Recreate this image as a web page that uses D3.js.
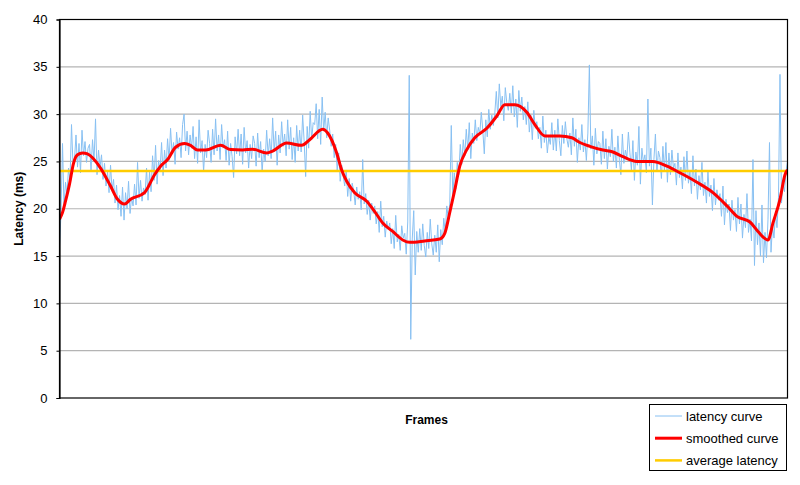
<!DOCTYPE html>
<html>
<head>
<meta charset="utf-8">
<script src="https://cdn.jsdelivr.net/npm/d3@7"></script>
<style>
  html, body { margin: 0; padding: 0; background: #fff; }
  svg { display: block; font-family: "Liberation Sans", Arial, sans-serif; }
</style>
</head>
<body>
<svg id="chart" width="800" height="485"></svg>
<script>
// ---- data ----
// raw latency per sampled frame (every 3rd frame)
const latency = [
  16.0, 19.5, 26.9, 20.2, 22.8, 21.5, 24.3, 23.0, 28.9, 24.6,
  25.2, 27.8, 24.4, 26.9, 23.8, 28.3, 25.6, 27.1, 24.9, 26.4,
  26.8, 24.1, 27.3, 25.0, 29.5, 23.6, 26.2, 24.4, 25.7, 23.1,
  24.8, 22.4, 23.9, 21.7, 24.6, 22.0, 23.1, 20.6, 22.5, 19.9,
  21.4, 19.2, 22.3, 18.8, 21.7, 20.0, 22.9, 19.5, 21.2, 20.3,
  22.6, 20.4, 24.9, 21.1, 23.0, 20.8, 22.2, 21.5, 24.3, 20.9,
  23.9, 21.8, 25.6, 23.0, 26.7, 22.6, 25.1, 24.0, 27.0, 23.5,
  26.2, 24.3, 27.4, 25.1, 28.5, 25.8, 27.0, 24.7, 28.1, 26.3,
  27.5, 25.4, 28.9, 30.0, 26.1, 28.2, 25.7, 27.8, 26.4, 28.7,
  25.3, 27.6, 24.8, 29.4, 25.9, 27.2, 23.9, 26.8, 25.4, 28.3,
  26.9, 24.9, 28.4, 25.7, 29.5, 26.1, 27.8, 25.2, 28.9, 26.4,
  27.3, 25.1, 28.2, 24.6, 26.9, 25.5, 23.3, 27.6, 25.8, 28.4,
  25.6, 27.9, 24.7, 28.6, 25.9, 27.2, 24.3, 26.8, 25.3, 27.7,
  26.9, 24.5, 28.0, 25.4, 27.1, 23.9, 26.3, 25.0, 28.3, 25.6,
  27.4, 25.3, 29.6, 26.0, 28.2, 24.6, 27.8, 25.9, 29.2, 26.6,
  27.9, 25.6, 29.4, 26.3, 28.6, 25.2, 27.5, 24.9, 28.8, 26.1,
  28.3, 26.0, 29.9, 27.1, 23.4, 28.7, 26.4, 30.3, 27.3, 29.1,
  28.9, 31.1, 27.4, 30.5, 26.8, 31.8, 28.2, 30.2, 27.5, 29.6,
  28.3, 26.6, 27.9, 25.4, 26.8, 24.0, 25.9, 22.9, 24.6, 23.5,
  22.4, 24.1, 21.3, 23.2, 20.8, 22.7, 21.9, 20.4, 22.3, 21.0,
  21.8, 19.9, 25.2, 20.5, 21.6, 19.4, 20.9, 18.8, 20.6, 19.5,
  20.3, 18.4, 19.7, 17.5, 20.8, 18.1, 19.2, 17.0, 18.7, 17.8,
  18.5, 16.3, 17.9, 15.8, 19.3, 16.5, 17.3, 15.6, 18.2, 16.9,
  17.4, 15.2, 18.6, 34.1, 6.2, 16.8, 19.8, 13.0, 17.6, 15.4,
  17.9, 15.6, 18.4, 16.1, 14.9, 17.5, 15.8, 18.9, 16.3, 15.1,
  17.2, 15.4, 18.3, 14.4, 17.8, 16.2, 19.0, 17.5, 20.3, 18.9,
  20.6, 28.8, 21.4, 23.8, 22.1, 24.9, 23.6, 26.8, 24.7, 27.3,
  25.6, 28.4, 26.2, 29.1, 25.3, 28.0, 26.9, 29.4, 27.2, 28.6,
  27.9, 30.2, 28.3, 25.8, 29.4, 27.6, 30.5, 28.4, 29.9, 28.8,
  30.1, 32.4, 29.6, 33.2, 30.8, 31.9, 29.3, 32.8, 31.2, 30.4,
  32.2, 30.1, 33.0, 29.7, 31.6, 28.6, 32.5, 30.3, 31.8, 29.4,
  30.8, 28.9, 31.3, 28.1, 29.9, 27.3, 30.4, 28.5, 29.2, 27.4,
  28.6, 26.4, 29.8, 27.0, 28.3, 25.9, 27.6, 26.8, 29.1, 26.2,
  28.3, 26.1, 29.5, 27.2, 25.6, 28.8, 26.9, 29.2, 27.4, 26.5,
  28.0, 25.7, 29.6, 26.6, 28.4, 24.9, 27.5, 26.2, 28.9, 26.0,
  27.3, 25.1, 28.0, 35.2, 26.3, 27.7, 24.6, 28.5, 25.8, 27.1,
  26.9, 24.7, 28.2, 25.3, 27.4, 24.2, 26.6, 25.5, 28.4, 25.0,
  26.5, 24.3, 27.7, 25.1, 23.6, 27.9, 24.8, 26.2, 25.4, 28.1,
  25.9, 24.1, 27.2, 23.0, 26.0, 24.6, 28.7, 22.6, 26.4, 24.9,
  25.7, 23.8, 31.6, 24.5, 26.4, 20.4, 25.2, 27.9, 23.9, 26.1,
  25.4, 23.2, 26.6, 24.0, 27.0, 22.8, 25.9, 23.6, 26.2, 24.3,
  24.8, 22.5, 25.9, 23.3, 24.4, 22.1, 25.5, 23.0, 26.1, 22.7,
  23.9, 21.6, 25.6, 22.4, 24.2, 21.0, 23.5, 22.0, 24.9, 21.4,
  22.8, 20.6, 24.0, 21.3, 22.5, 19.8, 23.2, 20.4, 22.0, 20.9,
  21.6, 19.2, 22.4, 18.3, 21.0, 19.6, 20.5, 17.7, 20.9, 18.8,
  19.9, 17.6, 21.2, 18.4, 20.5, 16.9, 19.4, 18.0, 21.6, 17.5,
  18.9, 16.6, 25.2, 14.0, 19.8, 16.2, 18.5, 15.0, 20.4, 14.3,
  17.5, 14.8, 18.9, 27.0, 15.4, 18.2, 16.9, 19.6, 18.0, 21.2,
  34.2, 20.6, 22.7, 21.8, 23.9, 25.0
];
const latencyStep = 3; // frames between samples

// smoothed curve: frame numbers and values
const smoothFrames = [0, 6, 12, 20, 28, 36, 46, 56, 82, 102, 116, 130, 142, 170, 190, 202, 216, 232, 250, 262, 276, 292,
  322, 342, 366, 386, 414, 426, 454, 484, 500, 526, 536, 554, 564, 574, 590, 614, 630, 646, 666, 686,
  700, 730, 760, 770, 780, 790, 800, 814, 830, 854, 874, 890, 910, 934, 950, 970, 1000, 1024, 1040, 1060,
  1086, 1106, 1126, 1154, 1186, 1214, 1240, 1274, 1306, 1334, 1354, 1380, 1396, 1416, 1426, 1440, 1450, 1455];
const smoothValues = [18.9, 19.6, 20.8, 22.6, 24.8, 25.7, 25.9, 25.8, 24.3, 22.4, 21.0, 20.5, 21.0, 21.7, 23.6, 24.5, 25.2, 26.5, 26.9, 26.7, 26.2, 26.2,
  26.7, 26.25, 26.2, 26.3, 25.9, 26.1, 26.95, 26.7, 27.3, 28.4, 28.0, 25.9, 24.1, 22.9, 21.7, 20.8, 19.7, 18.5, 17.6, 16.7,
  16.45, 16.6, 16.8, 17.4, 19.6, 22.0, 24.5, 26.25, 27.5, 28.5, 29.8, 31.0, 31.0, 30.2, 28.9, 27.7, 27.7, 27.5, 27.0, 26.6,
  26.2, 26.0, 25.5, 25.0, 25.0, 24.5, 23.8, 22.8, 21.7, 20.3, 19.2, 18.6, 17.6, 16.7, 18.5, 21.0, 23.6, 24.1];

const averageLatency = 24.0;
const yTicks = [0, 5, 10, 15, 20, 25, 30, 35, 40];
const legendLabels = ["latency curve", "smoothed curve", "average latency"];
const xLabel = "Frames";
const yLabel = "Latency (ms)";

// ---- layout ----
const svg = d3.select("#chart");
const L = 59.5, R = 787.5, T = 19.5, B = 398;
const colors = { latency: "#88c0f2", smooth: "#ff0000", avg: "#ffcc00" };

const x = d3.scaleLinear().domain([0, (latency.length - 1) * latencyStep]).range([L, R]);
const y = d3.scaleLinear().domain([0, 40]).range([B, T]);

// gridlines
svg.append("g").selectAll("line")
  .data(yTicks.filter(t => t > 0 && t < 40))
  .join("line")
  .attr("x1", L).attr("x2", R)
  .attr("y1", d => y(d)).attr("y2", d => y(d))
  .attr("stroke", "#b4b4b4").attr("stroke-width", 1.2);

// clip
svg.append("clipPath").attr("id", "clip")
  .append("rect").attr("x", L).attr("y", T).attr("width", R - L).attr("height", B - T);

const plot = svg.append("g").attr("clip-path", "url(#clip)");

// latency curve
plot.append("path")
  .datum(latency)
  .attr("fill", "none")
  .attr("stroke", colors.latency)
  .attr("stroke-width", 1)
  .attr("d", d3.line().x((d, i) => x(i * latencyStep)).y(d => y(d)));

// average line
plot.append("line")
  .attr("x1", L).attr("x2", R)
  .attr("y1", y(averageLatency)).attr("y2", y(averageLatency))
  .attr("stroke", colors.avg).attr("stroke-width", 2.5);

// smoothed curve
plot.append("path")
  .datum(smoothFrames.map((f, i) => [f, smoothValues[i]]))
  .attr("fill", "none")
  .attr("stroke", colors.smooth)
  .attr("stroke-width", 3)
  .attr("stroke-linejoin", "round")
  .attr("d", d3.line().x(d => x(d[0])).y(d => y(d[1])).curve(d3.curveMonotoneX));

// plot border
svg.append("rect")
  .attr("x", L).attr("y", T).attr("width", R - L).attr("height", B - T)
  .attr("fill", "none").attr("stroke", "#000").attr("stroke-width", 1.2);

// y axis
const yAxis = svg.append("g")
  .attr("transform", `translate(${L},0)`)
  .call(d3.axisLeft(y).tickValues(yTicks).tickSize(3).tickPadding(9).tickFormat(d3.format("d")));
yAxis.select(".domain").attr("stroke", "#000").attr("stroke-width", 1.2);
yAxis.selectAll(".tick line").attr("stroke", "#000");
yAxis.selectAll(".tick text")
  .attr("font-size", 13).attr("fill", "#000")
  .attr("font-family", '"Liberation Sans", Arial, sans-serif');

// axis titles
svg.append("text")
  .attr("x", (L + R) / 2 + 3).attr("y", 424)
  .attr("text-anchor", "middle")
  .attr("font-size", 12).attr("font-weight", "bold")
  .text(xLabel);

svg.append("text")
  .attr("transform", `translate(23,${(T + B) / 2}) rotate(-90)`)
  .attr("text-anchor", "middle")
  .attr("font-size", 12).attr("font-weight", "bold")
  .text(yLabel);

// legend
const lg = svg.append("g");
lg.append("rect")
  .attr("x", 649.5).attr("y", 404.5).attr("width", 137).attr("height", 66)
  .attr("fill", "#fff").attr("stroke", "#000").attr("stroke-width", 1);
const legendColors = [colors.latency, colors.smooth, colors.avg];
const legendWidths = [1, 3, 2.5];
legendLabels.forEach((lab, i) => {
  const yy = 416 + i * 22.2;
  lg.append("line")
    .attr("x1", 655).attr("x2", 682).attr("y1", yy).attr("y2", yy)
    .attr("stroke", legendColors[i]).attr("stroke-width", legendWidths[i]);
  lg.append("text")
    .attr("x", 686).attr("y", yy + 4.5)
    .attr("font-size", 13).attr("fill", "#000")
    .text(lab);
});
</script>
</body>
</html>
